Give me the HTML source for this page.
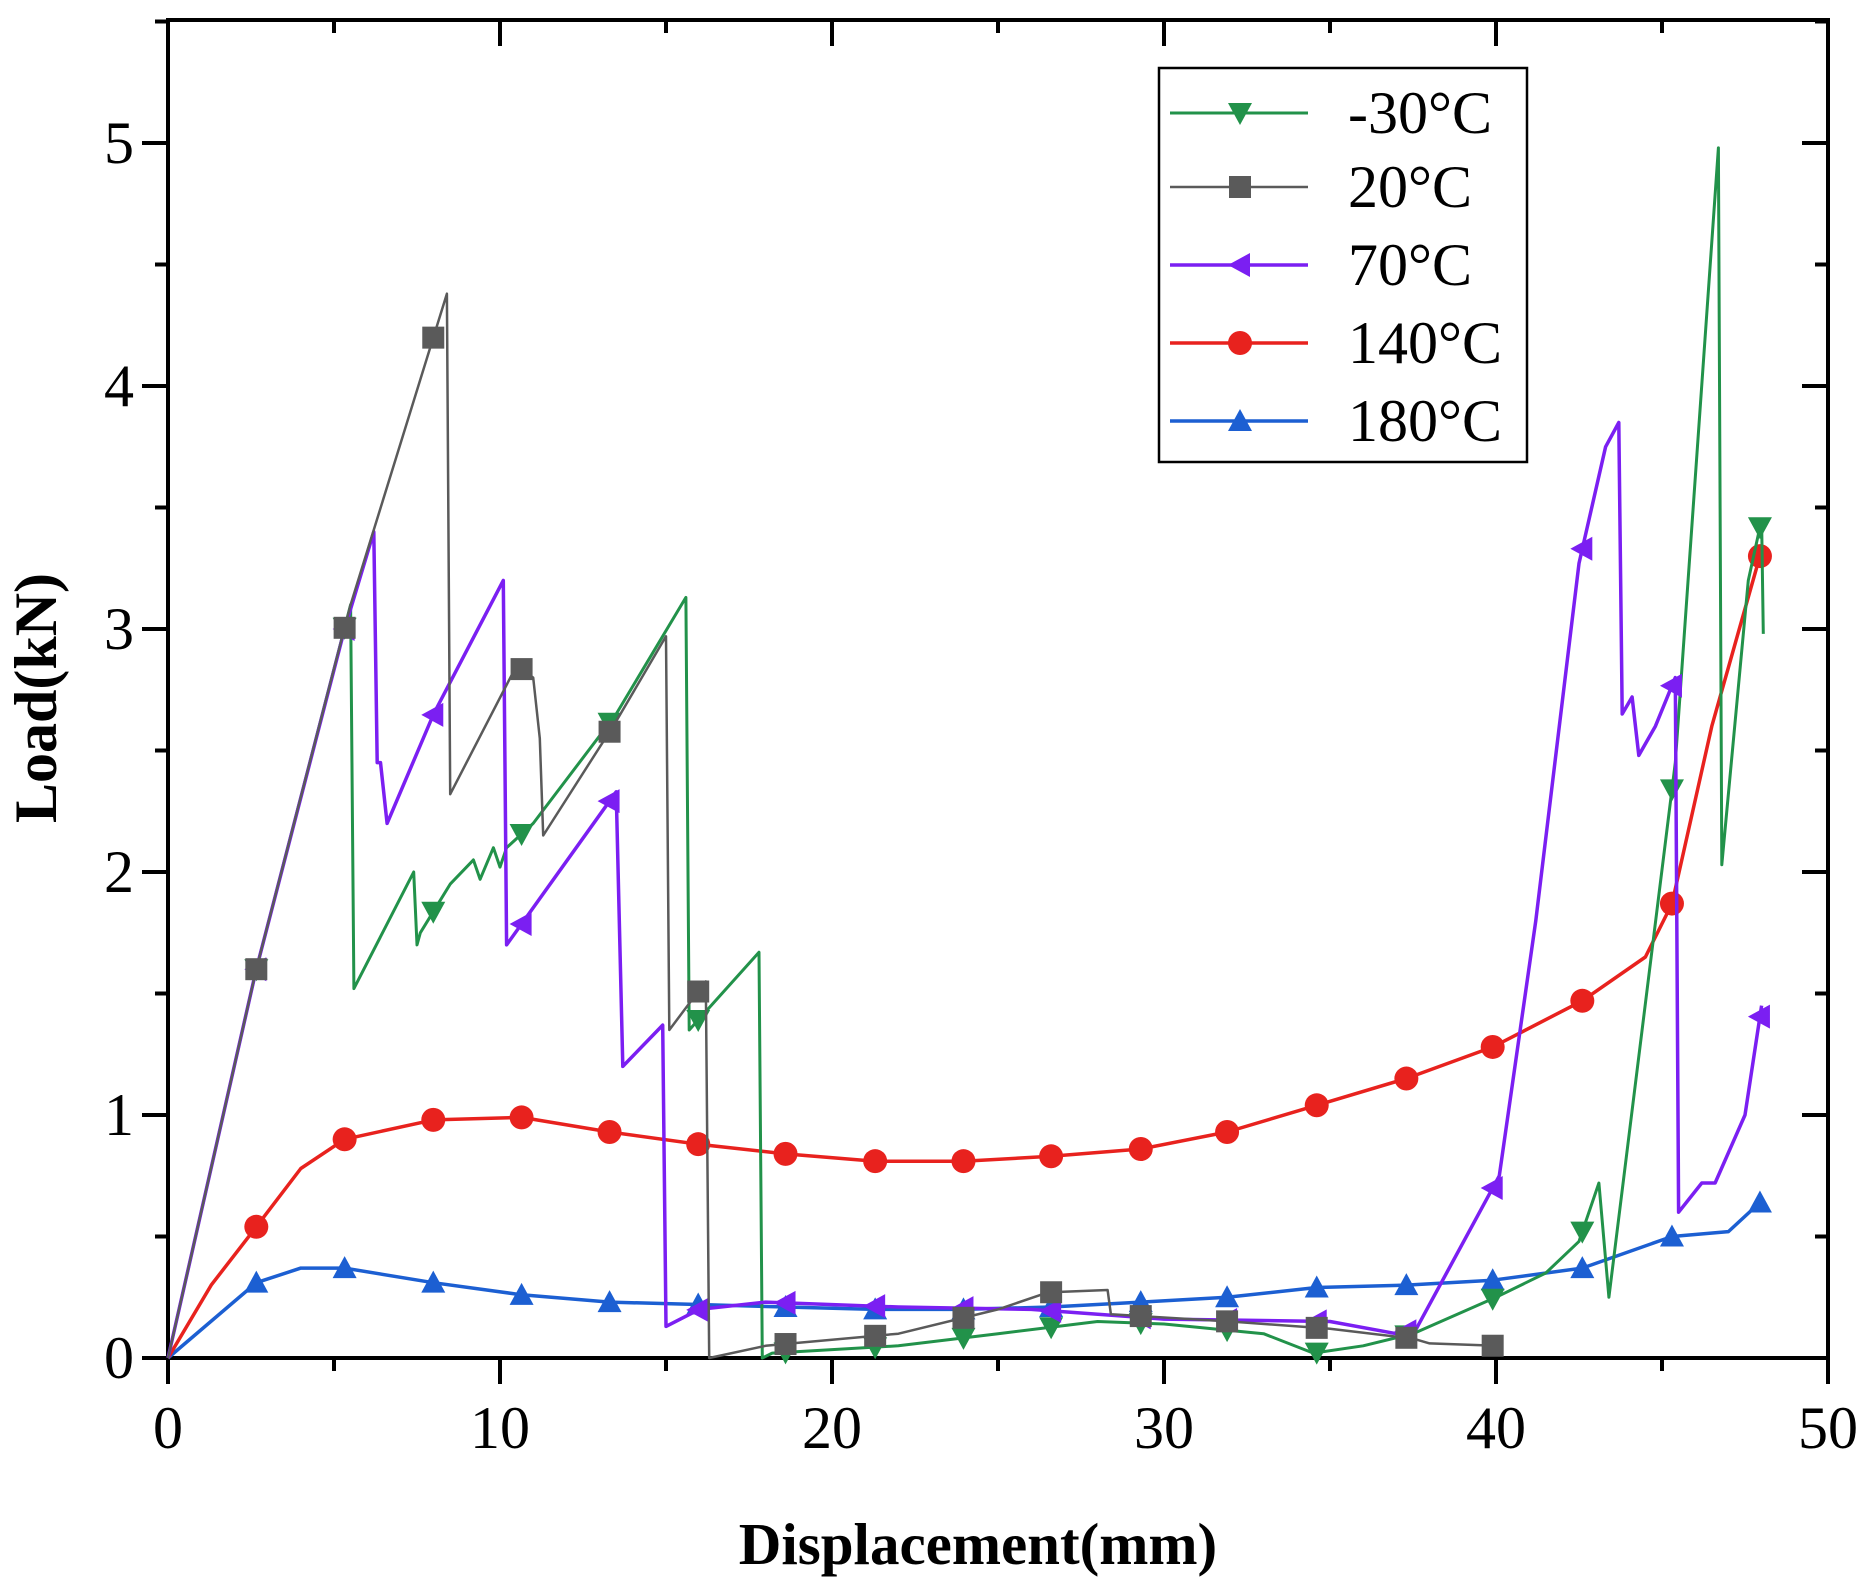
<!DOCTYPE html>
<html><head><meta charset="utf-8"><style>
html,body{margin:0;padding:0;background:#fff}
svg{display:block}
text{font-family:"Liberation Serif",serif;fill:#000}
</style></head><body>
<svg id="chart" width="1870" height="1595" viewBox="0 0 1870 1595" xmlns="http://www.w3.org/2000/svg">
<g id="plot"></g>
</svg>
<script>
const xTicks=[0,10,20,30,40,50];
const yTicks=[0,1,2,3,4,5];
const markerX=[2.66,5.32,7.99,10.65,13.3,15.97,18.6,21.3,23.96,26.6,29.3,31.9,34.6,37.3,39.9,42.6,45.3,47.95];
const seriesNames=["-30°C","20°C","70°C","140°C","180°C"];
const m30X=[0,2.66,5.5,5.6,7.4,7.5,7.6,8.5,9.2,9.4,9.8,10.0,10.2,11,13.5,15.6,15.7,17.8,17.9,18.2,22,25,28,30,33,34.5,36,37.5,40,41.5,42.5,43.1,43.4,45.4,46.7,46.8,47.6,48.0,48.05];
const m30Y=[0,1.6,3.1,1.52,2.0,1.7,1.75,1.95,2.05,1.97,2.1,2.02,2.1,2.2,2.65,3.13,1.35,1.67,0,0.02,0.05,0.1,0.15,0.14,0.1,0.02,0.05,0.1,0.25,0.35,0.48,0.72,0.25,2.45,4.98,2.03,3.2,3.45,2.98];
const p20X=[0,2.66,5.5,8.4,8.5,10.5,11,11.2,11.3,13.5,15.0,15.1,16.2,16.3,18,22,25,26.5,28.3,28.4,32,35,37.5,38,40];
const p20Y=[0,1.6,3.1,4.38,2.32,2.85,2.8,2.55,2.15,2.62,2.97,1.35,1.55,0,0.05,0.1,0.2,0.27,0.28,0.18,0.15,0.12,0.08,0.06,0.05];
const p70X=[0,2.66,5.32,6.2,6.3,6.4,6.6,8.0,10.1,10.2,13.5,13.7,14.9,15.0,16,18,22,26,30,35,37,37.6,40.1,41.2,42.5,43.3,43.7,43.8,44.1,44.3,44.8,45.4,45.5,46.2,46.6,47.5,48];
const p70Y=[0,1.6,3.0,3.4,2.45,2.45,2.2,2.65,3.2,1.7,2.33,1.2,1.37,0.13,0.2,0.23,0.21,0.2,0.16,0.15,0.1,0.12,0.75,1.8,3.27,3.75,3.85,2.65,2.72,2.48,2.6,2.8,0.6,0.72,0.72,1.0,1.45];
const p140X=[0,1.3,2.66,4,5.32,7.99,10.65,13.3,15.97,18.6,21.3,23.96,26.6,29.3,31.9,34.6,37.3,39.9,42.6,44.5,45.3,46.5,47.95];
const p140Y=[0,0.3,0.54,0.78,0.9,0.98,0.99,0.93,0.88,0.84,0.81,0.81,0.83,0.86,0.93,1.04,1.15,1.28,1.47,1.65,1.87,2.6,3.3];
const p180X=[0,2.66,4,5.32,7.99,10.65,13.3,15.97,18.6,21.3,23.96,26.6,29.3,31.9,34.6,37.3,39.9,42.6,45.3,47,47.95];
const p180Y=[0,0.31,0.37,0.37,0.31,0.26,0.23,0.22,0.21,0.2,0.2,0.21,0.23,0.25,0.29,0.3,0.32,0.37,0.5,0.52,0.64];

const X0=168,X1=1828,Y0=1358,Y5=143;
const sx=v=>X0+(X1-X0)*v/50;
const sy=v=>Y0-(Y0-Y5)*v/5;
const NS="http://www.w3.org/2000/svg";
const plot=document.getElementById('plot');
function mk(tag,attrs,parent){const e=document.createElementNS(NS,tag);for(const k in attrs)e.setAttribute(k,attrs[k]);(parent||plot).appendChild(e);return e;}
function interp(xs,ys,x){for(let i=0;i<xs.length-1;i++){if(x>=xs[i]&&x<=xs[i+1]){const t=xs[i+1]===xs[i]?0:(x-xs[i])/(xs[i+1]-xs[i]);return ys[i]+t*(ys[i+1]-ys[i]);}}return null;}
function marker(type,cx,cy,color,parent){
  const r=12;let e;
  if(type==='circle')e=mk('circle',{cx:cx,cy:cy,r:r,fill:color},parent);
  else if(type==='square')e=mk('rect',{x:cx-r+1,y:cy-r+1,width:2*r-2,height:2*r-2,fill:color},parent);
  else{let p;
    if(type==='down')p=[[cx-r,cy-r+2],[cx+r,cy-r+2],[cx,cy+r]];
    else if(type==='up')p=[[cx-r,cy+r-2],[cx+r,cy+r-2],[cx,cy-r]];
    else p=[[cx+r-2,cy-r],[cx+r-2,cy+r],[cx-r,cy]];
    e=mk('polygon',{points:p.map(q=>q.join(',')).join(' '),fill:color},parent);}
  return e;
}
const frame=mk('rect',{x:X0,y:20,width:X1-X0,height:Y0-20,fill:'none',stroke:'#000','stroke-width':4});

for(let v=0;v<=50;v+=5){const x=sx(v);const L=v%10===0?26:13;
  const t=mk('line',{x1:x,y1:Y0,x2:x,y2:Y0+L,stroke:'#000','stroke-width':4});
  
  const t2=mk('line',{x1:x,y1:20,x2:x,y2:20+L,stroke:'#000','stroke-width':4});
  }
for(let v=0;v<=5.5;v+=0.5){const y=sy(v);const L=Math.abs(v-Math.round(v))<1e-6?26:13;
  const t=mk('line',{x1:X0-L,y1:y,x2:X0,y2:y,stroke:'#000','stroke-width':4});
  
  const t2=mk('line',{x1:X1-L,y1:y,x2:X1,y2:y,stroke:'#000','stroke-width':4});
  }
xTicks.forEach(v=>{const t=mk('text',{x:sx(v),y:1448,'font-size':60,'text-anchor':'middle'});t.textContent=v;
  });
yTicks.forEach(v=>{const t=mk('text',{x:134,y:sy(v)+20,'font-size':60,'text-anchor':'end'});t.textContent=v;
  });
const xt=mk('text',{x:978,y:1564,'font-size':59,'font-weight':'bold','text-anchor':'middle'});xt.textContent='Displacement(mm)';

const yt=mk('text',{x:0,y:0,'font-size':60,'font-weight':'bold','text-anchor':'middle',transform:'translate(56,698) rotate(-90)'});yt.textContent='Load(kN)';


const series=[
 {xs:m30X,ys:m30Y,color:'#22924a',m:'down',w:3},
 {xs:p20X,ys:p20Y,color:'#5a5a5a',m:'square',w:2.5},
 {xs:p70X,ys:p70Y,color:'#7b1ff2',m:'left',w:3.5},
 {xs:p140X,ys:p140Y,color:'#e8221e',m:'circle',w:3.5},
 {xs:p180X,ys:p180Y,color:'#1c5fd2',m:'up',w:3.5}];
const order=[4,3,0,2,1];
order.forEach(i=>{const s=series[i];
  const g=mk('g',{});
  const d=s.xs.map((x,j)=>(j?'L':'M')+sx(x).toFixed(1)+','+sy(s.ys[j]).toFixed(1)).join('');
  const p=mk('path',{d:d,fill:'none',stroke:s.color,'stroke-width':s.w,'stroke-linejoin':'round'},g);
  
  markerX.forEach(mx=>{if(mx>s.xs[s.xs.length-1])return;const v=interp(s.xs,s.ys,mx);if(v===null)return;
    const e=marker(s.m,sx(mx),sy(v),s.color,g);
    });
});
const lg=mk('g',{});
const lb=mk('rect',{x:1159,y:68,width:368,height:394,fill:'#fff',stroke:'#000','stroke-width':2.5},lg);

const rows=[113,187,265,343,421];
seriesNames.forEach((n,i)=>{const s=series[i];const y=rows[i];
  const g=mk('g',{},lg);
  mk('line',{x1:1170,y1:y,x2:1308,y2:y,stroke:s.color,'stroke-width':s.w},g);
  marker(s.m,1240,y,s.color,g);
  const t=mk('text',{x:1348,y:y+20,'font-size':60},g);t.textContent=n;
  
});
</script>
</body></html>
